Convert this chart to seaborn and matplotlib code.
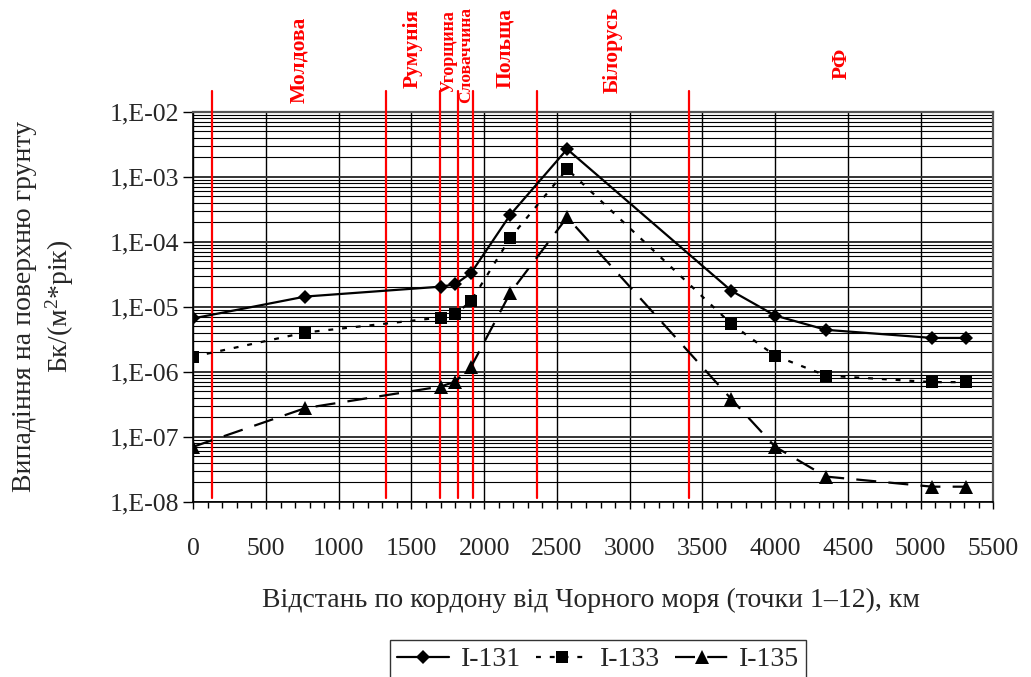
import numpy as np
import pandas as pd
import matplotlib
matplotlib.use("Agg")
import matplotlib.pyplot as plt
import matplotlib.transforms as mtransforms
from matplotlib.ticker import LogLocator, MultipleLocator, FuncFormatter, NullFormatter, FixedLocator
import seaborn as sns

# ---- data ----
distance_km = [0, 770, 1700, 1800, 1910, 2180, 2570, 3700, 4000, 4350, 5080, 5310]
i131 = [6.6e-6, 1.43e-5, 2.03e-5, 2.2e-5, 3.3e-5, 2.6e-4, 2.65e-3, 1.75e-5, 7.3e-6, 4.4e-6, 3.3e-6, 3.3e-6]
i133 = [1.7e-6, 4.0e-6, 6.8e-6, 7.6e-6, 1.22e-5, 1.15e-4, 1.31e-3, 5.4e-6, 1.76e-6, 8.7e-7, 6.9e-7, 6.9e-7]
i135 = [7.0e-8, 2.75e-7, 5.9e-7, 7.0e-7, 1.19e-6, 1.64e-5, 2.37e-4, 3.76e-7, 7.0e-8, 2.43e-8, 1.7e-8, 1.7e-8]
series_names = ["I-131", "I-133", "I-135"]

border_km = [127, 1323, 1696, 1822, 1925, 2361, 3410]
countries = ["Молдова", "Румунія", "Угорщина", "Словаччина", "Польща", "Білорусь", "РФ"]

x_ticks = list(range(0, 5501, 500))
y_ticks = [1e-8, 1e-7, 1e-6, 1e-5, 1e-4, 1e-3, 1e-2]
y_tick_labels = ["1,E-08", "1,E-07", "1,E-06", "1,E-05", "1,E-04", "1,E-03", "1,E-02"]

x_label = "Відстань по кордону від Чорного моря (точки 1–12), км"
y_label = "Випадіння на поверхню грунту\nБк/(м$^2$*рік)"

# ---- long-form table ----
df = pd.DataFrame({
    "km": distance_km * 3,
    "value": i131 + i133 + i135,
    "series": sum([[n] * len(distance_km) for n in series_names], []),
})

sns.set_theme(style="white")
plt.rcParams["font.family"] = ["Liberation Serif", "DejaVu Serif"]
plt.rcParams["mathtext.fontset"] = "custom"
plt.rcParams["mathtext.rm"] = "Liberation Serif"
plt.rcParams["mathtext.it"] = "Liberation Serif"

fig = plt.figure(figsize=(10.31, 6.77), dpi=100)
ax = fig.add_axes([0.1875, 0.259, 0.7759, 0.5761])

sns.lineplot(
    data=df, x="km", y="value", hue="series", style="series",
    palette={"I-131": "black", "I-133": "black", "I-135": "black"},
    markers={"I-131": "D", "I-133": "s", "I-135": "^"},
    dashes={"I-131": "", "I-133": (2.2, 4), "I-135": (9, 5.5)},
    markersize=8, markeredgewidth=0, linewidth=1.6,
    estimator=None, sort=False, ax=ax, zorder=5,
)
for line in ax.get_lines():
    m = line.get_marker()
    if m == "D":
        line.set_markersize(7.5)
    elif m == "s":
        line.set_markersize(9)
    elif m == "^":
        line.set_markersize(10.5)

ax.set_yscale("log")
ax.set_xlim(0, 5500)
ax.set_ylim(1e-8, 1e-2)

ax.xaxis.set_major_locator(FixedLocator(x_ticks))
ax.xaxis.set_minor_locator(MultipleLocator(100))
ax.set_xticklabels([str(t) for t in x_ticks])

ax.yaxis.set_major_locator(FixedLocator(y_ticks))
ax.yaxis.set_major_formatter(FuncFormatter(
    lambda v, p: y_tick_labels[int(np.argmin([abs(np.log10(t) - np.log10(v)) for t in y_ticks]))]))
ax.yaxis.set_minor_locator(LogLocator(base=10, subs=range(2, 10), numticks=20))
ax.yaxis.set_minor_formatter(NullFormatter())

ax.grid(which="major", axis="y", color="#333333", linewidth=1.4, zorder=0)
ax.grid(which="minor", axis="y", color="black", linewidth=0.8, zorder=0)
ax.grid(which="major", axis="x", color="black", linewidth=1.0, zorder=0)
ax.set_axisbelow(True)

ax.tick_params(axis="x", which="major", direction="out", length=5, width=1, color="black",
               labelsize=18.5, pad=21, bottom=True)
ax.tick_params(axis="x", which="minor", direction="out", length=4.5, width=1, color="black", bottom=True)
ax.tick_params(axis="y", which="major", direction="out", length=7, width=1, color="black",
               labelsize=18.5, pad=3, left=True)
ax.tick_params(axis="y", which="minor", length=0)

for s in ["left", "bottom"]:
    ax.spines[s].set_color("black")
    ax.spines[s].set_linewidth(1.2)
for s in ["top", "right"]:
    ax.spines[s].set_color("#555555")
    ax.spines[s].set_linewidth(1.6)

# border lines
for b in border_km:
    ax.axvline(b, ymin=0.009, ymax=1.053, color="red", linewidth=1.6, clip_on=False, zorder=3)

# country labels
bounds = border_km + [5500]
label_y_px = [60, 48, 52, 55, 48, 50, 63]
label_sizes = [15.5, 15.5, 13, 12.5, 15.5, 15.5, 15.5]
trans = mtransforms.blended_transform_factory(ax.transData, fig.transFigure)
for i, name in enumerate(countries):
    xm = (bounds[i] + bounds[i + 1]) / 2
    ax.text(xm, 1 - label_y_px[i] / 677, name, transform=trans, rotation=90,
            ha="center", va="center", color="red", fontweight="bold",
            fontsize=label_sizes[i], clip_on=False)

ax.set_xlabel(x_label, fontsize=20)
ax.xaxis.set_label_coords(0.4975, -0.22)
ax.set_ylabel(y_label, fontsize=20, linespacing=1.25)
ax.yaxis.set_label_coords(-0.147, 0.5)

handles, labels = ax.get_legend_handles_labels()
if ax.get_legend() is not None:
    ax.get_legend().remove()
leg = fig.legend(handles, labels, loc="upper center", bbox_to_anchor=(598 / 1031, 1 - 640 / 677),
                 ncol=3, frameon=True, fancybox=False, fontsize=20, handlelength=1.9,
                 columnspacing=0.55, handletextpad=0.4, borderpad=0.25, borderaxespad=0)
leg.get_frame().set_edgecolor("black")
leg.get_frame().set_linewidth(1.0)

fig.savefig("out.png", dpi=100)
